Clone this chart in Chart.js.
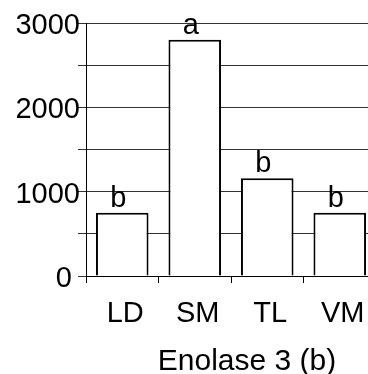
<!DOCTYPE html>
<html>
<head>
<meta charset="utf-8">
<script src="https://cdn.jsdelivr.net/npm/chart.js@4.4.0/dist/chart.umd.min.js"></script>
<style>
  html, body { margin: 0; padding: 0; background: #fff; overflow: hidden; }
  #wrap { width: 380px; height: 374px; }
</style>
</head>
<body>
<div id="wrap"><canvas id="enoChart"></canvas></div>
<script>
// values
const tissues = ["LD", "SM", "TL", "VM"];
const enolase = [750, 2800, 1160, 750];
const letters = ["b", "a", "b", "b"];
const axisTitle = "Enolase 3 (b)";

const font = "Liberation Sans, Arial, sans-serif";

// significance letters above each bar + x axis title
const letterPlugin = {
    id: "letters",
    afterDatasetsDraw(chart) {
        const ctx = chart.ctx;
        const meta = chart.getDatasetMeta(0);
        ctx.save();
        ctx.fillStyle = "#000";
        ctx.font = "29px " + font;
        ctx.textAlign = "center";
        ctx.textBaseline = "alphabetic";
        meta.data.forEach((bar, i) => {
            ctx.fillText(letters[i], bar.x - 4, bar.y - 6);
        });
        ctx.font = "30px " + font;
        ctx.fillText(axisTitle, chart.chartArea.left + 161, 370);
        ctx.restore();
    }
};

const ctx = document.getElementById("enoChart").getContext("2d");

const enoChart = new Chart(ctx, {
    type: "bar",
    data: {
        labels: tissues,
        datasets: [{
            data: enolase,
            backgroundColor: "#fff",
            borderColor: "#000",
            borderWidth: 2,
            barPercentage: 0.725,
            categoryPercentage: 1,
        }]
    },
    options: {
        responsive: true,
        maintainAspectRatio: false,
        animation: false,
        layout: { padding: { top: 23, right: 4, left: 0, bottom: 0 } },
        plugins: {
            legend: { display: false },
            tooltip: { enabled: false },
        },
        scales: {
            x: {
                afterFit: (s) => { s.height = 98; },
                grid: { display: true, drawOnChartArea: false, offset: true, tickLength: 7, color: "#000" },
                border: { display: true, color: "#000", width: 1 },
                ticks: { color: "#000", font: { family: font, size: 29 }, padding: 14, labelOffset: 3 },
            },
            y: {
                min: 0,
                max: 3000,
                afterFit: (s) => { s.width = 86; },
                grid: { color: "#333", lineWidth: 1, tickLength: 8 },
                border: { display: true, color: "#000", width: 1 },
                ticks: {
                    stepSize: 500,
                    autoSkip: false,
                    color: "#000",
                    padding: -2,
                    labelOffset: 3,
                    font: { family: font, size: 29 },
                    callback: (v) => v % 1000 === 0 ? (v === 0 ? "0 " : String(v)) : "",
                },
            },
        },
    },
    plugins: [letterPlugin],
});
</script>
</body>
</html>
